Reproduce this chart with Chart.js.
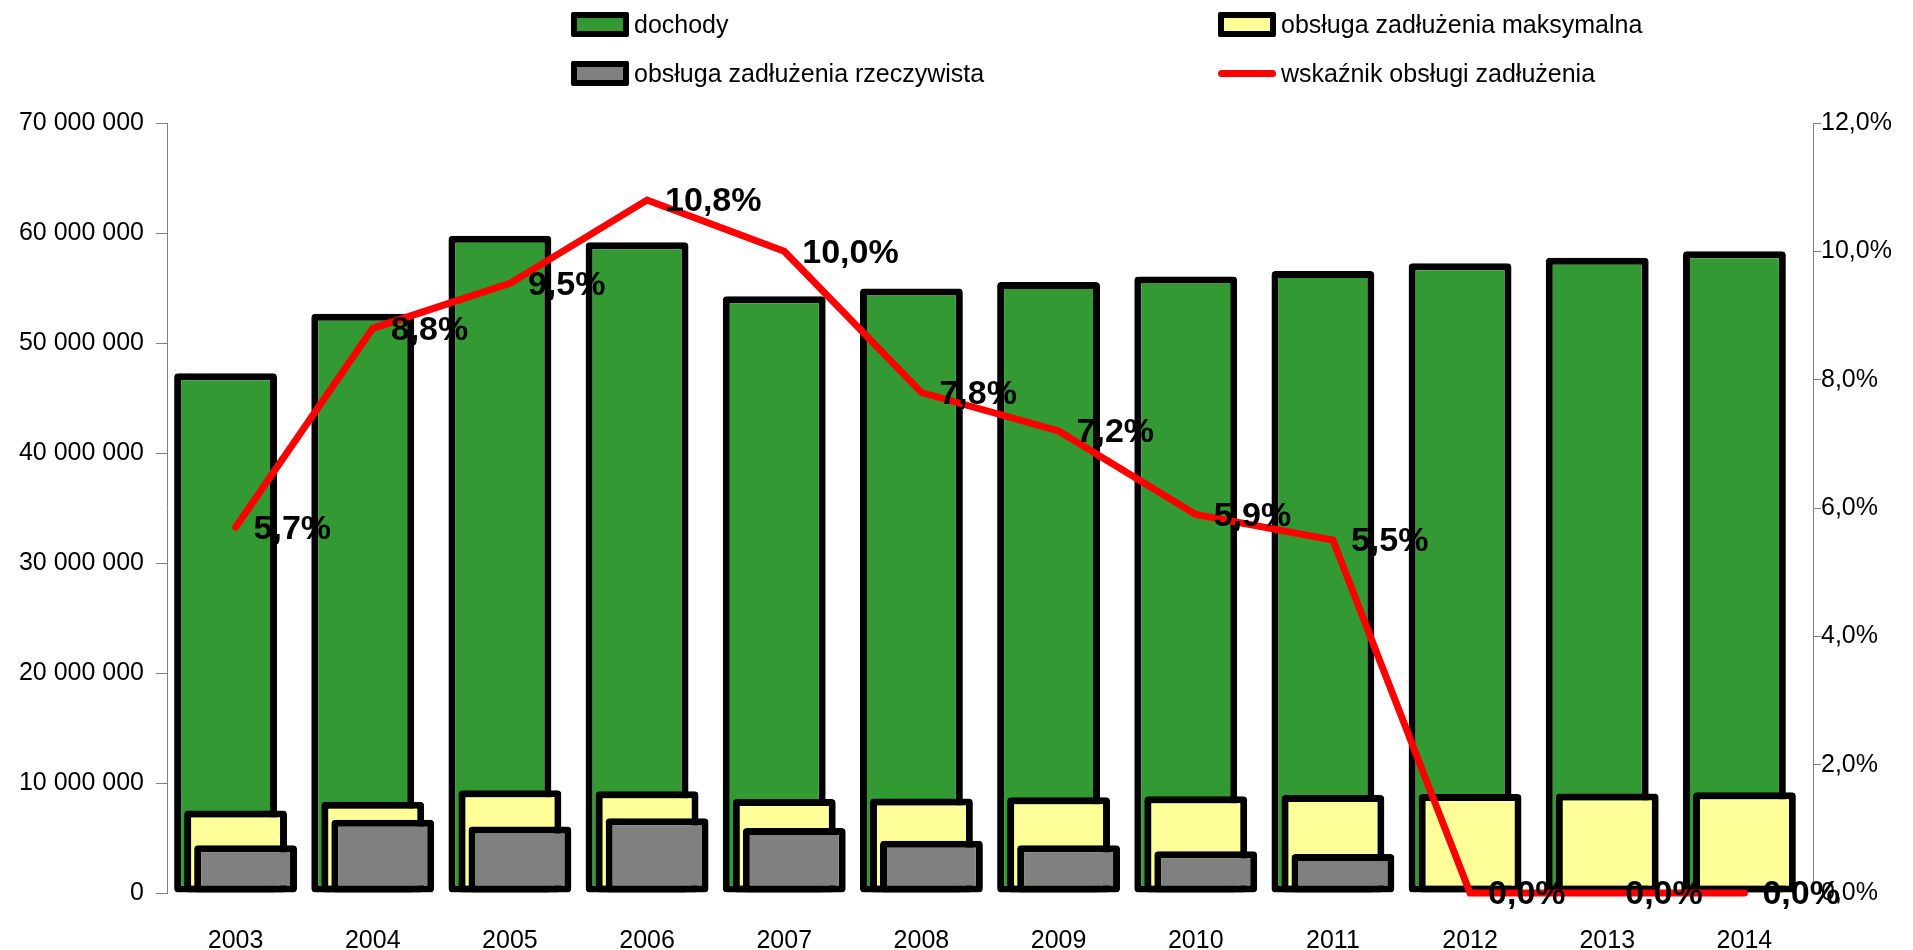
<!DOCTYPE html>
<html lang="pl">
<head>
<meta charset="utf-8">
<title>Wskaźnik obsługi zadłużenia</title>
<script src="https://cdn.jsdelivr.net/npm/chart.js@4.4.1/dist/chart.umd.min.js"></script>
<style>
  body { margin: 0; background: #fff; }
  #wrap { position: relative; width: 1913px; height: 950px; }
  #legenda { position: absolute; left: 0; top: 0; width: 1913px; height: 100px;
    font-family: 'Liberation Sans', Arial, sans-serif; font-size: 25px; color: #000; }
  .pozycja { position: absolute; display: flex; align-items: center; height: 30px; white-space: nowrap; }
  .kostka { box-sizing: border-box; width: 58px; height: 25px; border: 6px solid #000; border-radius: 2px; margin-right: 5px; }
  .kreska { width: 58px; height: 7px; border-radius: 4px; margin-right: 5px; }
</style>
</head>
<body>
<div id="wrap">
  <canvas id="wykres" width="1913" height="950"></canvas>
  <div id="legenda"></div>
</div>
<script>
// Dane do wykresu
const lata = ['2003', '2004', '2005', '2006', '2007', '2008', '2009', '2010', '2011', '2012', '2013', '2014'];
const dochody = [47250000, 52650000, 59750000, 59150000, 54250000, 54950000, 55550000, 56050000, 56550000, 57250000, 57750000, 58350000];
const obslugaMaks = [7500000, 8300000, 9350000, 9250000, 8550000, 8600000, 8700000, 8800000, 8900000, 9000000, 9050000, 9150000];
const obslugaRzecz = [4350000, 6650000, 6050000, 6800000, 5900000, 4750000, 4350000, 3800000, 3550000, 0, 0, 0];
const wskaznik = [5.7, 8.8, 9.5, 10.8, 10.0, 7.8, 7.2, 5.9, 5.5, 0.0, 0.0, 0.0];

const lewaOs = [0, 10000000, 20000000, 30000000, 40000000, 50000000, 60000000, 70000000];
const prawaOs = [0, 2, 4, 6, 8, 10, 12];

// przesunięcie słupków względem środka kategorii (ułamek szerokości kategorii)
const przesuniecie = 0.073;

const czcionka = "'Liberation Sans', Arial, sans-serif";

function formatKwota(v) {
  return String(v).replace(/\B(?=(\d{3})+(?!\d))/g, ' ');
}
function formatProcent(v) {
  return v.toFixed(1).replace('.', ',') + '%';
}
function punkty(wartosci) {
  return wartosci.map((v, i) => ({ x: i, y: v }));
}

// Etykiety wartości przy linii wskaźnika
const etykiety = {
  id: 'etykiety',
  afterDatasetsDraw(chart) {
    const meta = chart.getDatasetMeta(3);
    const ctx = chart.ctx;
    ctx.save();
    ctx.font = 'bold 34px ' + czcionka;
    ctx.fillStyle = '#000';
    ctx.textAlign = 'left';
    ctx.textBaseline = 'middle';
    meta.data.forEach((pt, i) => {
      ctx.fillText(formatProcent(wskaznik[i]), pt.x + 18, pt.y + 2);
    });
    ctx.restore();
  }
};

// ukryta oś liniowa dla jednej serii słupków, przesunięta o ułamek kategorii
function osUkryta(min) {
  return {
    type: 'linear', display: false, offset: false,
    min: min, max: min + lata.length,
    afterBuildTicks: s => { s.ticks = lata.map((r, i) => ({ value: i })); }
  };
}

const slupek = {
  grouped: false,
  borderColor: '#000',
  borderWidth: 7,
  borderRadius: 4,
  borderSkipped: false,
  barPercentage: 0.75,
  categoryPercentage: 1
};

const wykres = new Chart(document.getElementById('wykres'), {
  data: {
    labels: lata,
    datasets: [
      Object.assign({ type: 'bar', label: 'dochody', data: punkty(dochody),
        backgroundColor: '#339933', xAxisID: 'xA', yAxisID: 'y', order: 3 }, slupek),
      Object.assign({ type: 'bar', label: 'obsługa zadłużenia maksymalna', data: punkty(obslugaMaks),
        backgroundColor: '#FFFF99', xAxisID: 'xB', yAxisID: 'y', order: 2 }, slupek),
      Object.assign({ type: 'bar', label: 'obsługa zadłużenia rzeczywista', data: punkty(obslugaRzecz),
        backgroundColor: '#808080', xAxisID: 'xC', yAxisID: 'y', order: 1 }, slupek),
      { type: 'line', label: 'wskaźnik obsługi zadłużenia', data: wskaznik,
        borderColor: '#FF0000', backgroundColor: '#FF0000', borderWidth: 7,
        borderCapStyle: 'round', pointRadius: 0, tension: 0, clip: false,
        xAxisID: 'x', yAxisID: 'y1', order: 0 }
    ]
  },
  options: {
    responsive: false,
    animation: false,
    layout: { padding: { top: 123, left: 0, right: 0, bottom: 0 } },
    plugins: { legend: { display: false }, tooltip: { enabled: false } },
    scales: {
      x: {
        type: 'category',
        offset: true,
        grid: { display: false, drawTicks: false },
        border: { display: false },
        ticks: { color: '#000', padding: 33, font: { family: czcionka, size: 25 } },
        afterFit: s => { s.height = 57; }
      },
      xA: osUkryta(-0.5 + przesuniecie),
      xB: osUkryta(-0.5),
      xC: osUkryta(-0.5 - przesuniecie),
      y: {
        position: 'left',
        min: 0,
        max: 70000000,
        afterBuildTicks: s => { s.ticks = lewaOs.map(v => ({ value: v })); },
        grid: { drawOnChartArea: false, color: '#808080', tickLength: 11 },
        border: { color: '#808080' },
        ticks: { color: '#000', padding: 12, font: { family: czcionka, size: 25 }, callback: v => formatKwota(v) },
        afterFit: s => { s.width = 167; }
      },
      y1: {
        position: 'right',
        min: 0,
        max: 12,
        afterBuildTicks: s => { s.ticks = prawaOs.map(v => ({ value: v })); },
        grid: { drawOnChartArea: false, color: '#808080', tickLength: 8 },
        border: { color: '#808080' },
        ticks: { color: '#000', padding: 0, font: { family: czcionka, size: 25 }, callback: v => formatProcent(v) },
        afterFit: s => { s.width = 100; }
      }
    }
  },
  plugins: [etykiety]
});

// Legenda HTML w dwóch kolumnach
const kolumny = [571, 1218];
const wiersze = [24, 73];
const legenda = document.getElementById('legenda');
wykres.data.datasets.forEach((ds, i) => {
  const el = document.createElement('div');
  el.className = 'pozycja';
  el.style.left = kolumny[i % 2] + 'px';
  el.style.top = (wiersze[Math.floor(i / 2)] - 15) + 'px';
  const znak = document.createElement('span');
  if (ds.type === 'line') {
    znak.className = 'kreska';
    znak.style.background = ds.borderColor;
  } else {
    znak.className = 'kostka';
    znak.style.background = ds.backgroundColor;
  }
  el.appendChild(znak);
  el.appendChild(document.createTextNode(ds.label));
  legenda.appendChild(el);
});
</script>
</body>
</html>
